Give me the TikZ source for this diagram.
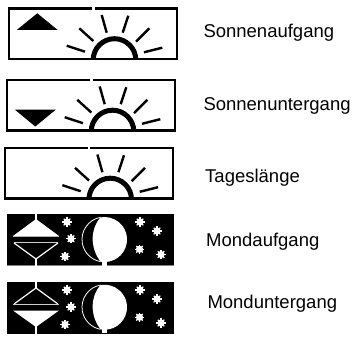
\documentclass[tikz,border=0pt]{standalone}
\usepackage{fontspec}
\setmainfont{Liberation Sans}
\tikzset{
  frameline/.style={line width=2.1pt,draw=black},
  ray/.style={line width=2.4pt,draw=black},
  arcline/.style={line width=5pt,draw=black},
  gapline/.style={line width=2.2pt,draw=white},
  mark label/.style={anchor=base west,inner sep=0pt,font=\fontsize{18.5}{22}\selectfont},
  whiteline/.style={line width=1.2pt,draw=white},
}
\newcommand{\sunbox}[2]{%
  \begin{scope}[shift={(#1,#2)}]
    \draw[frameline] (9,8.5) rectangle (177,59);
    \draw[gapline] (93.5,6) -- (93.5,11);
    \begin{scope}
      \clip (80,30) rectangle (150,59);
      \draw[arcline] (114.5,60) circle[radius=21.3];
    \end{scope}
    \draw[ray] (101.7,15) -- (106.7,32.7);
    \draw[ray] (128.3,15.7) -- (122.7,32.7);
    \draw[ray] (79.3,28.3) -- (93.3,41);
    \draw[ray] (149.3,28.3) -- (136,41.7);
    \draw[ray] (66.7,45.7) -- (85,51.7);
    \draw[ray] (162.3,47.7) -- (144,52.3);
  \end{scope}}
\newcommand{\starmark}[2]{%
  \fill[white] (#1,#2) circle[radius=3.6];
  \foreach \a in {0,45,90,135}{\draw[white,line width=1.2pt] ({#1+4.6*cos(\a)},{#2+4.6*sin(\a)}) -- ({#1-4.6*cos(\a)},{#2-4.6*sin(\a)});}}
\newcommand{\moonbody}[1]{%
  \begin{scope}[shift={(0,#1)}]
    \draw[white,line width=.8pt] (100.6,217.3) arc[start angle=-100,end angle=-260,radius=22.5];
    \fill[white] (100.6,217.3) .. controls (90,229) and (90,248) .. (100.6,261.7) arc[start angle=100,end angle=-100,radius=22.5] -- cycle;
    \fill[white] (101.5,259) rectangle (107,265.6);
  \end{scope}}
\begin{document}
\begin{tikzpicture}[x=1pt,y=-1pt]
  \useasboundingbox (0,0) rectangle (355,337);
  \fill[white] (0,0) rectangle (355,337);
  % sun panels
  \sunbox{0}{0}
  \sunbox{-2}{71.5}
  \sunbox{-4.3}{139.5}
  \fill[black] (16.7,30) -- (57.7,30) -- (37.3,13.3) -- cycle;
  \fill[black] (14.7,109.5) -- (56,109.5) -- (35.3,126.5) -- cycle;
  % moon panel 1
  \fill[black] (7,214) rectangle (174,265.5);
  \draw[gray,line width=.5pt] (7,265.6) -- (174,265.6);
  \fill[white] (13,236) -- (59,236) -- (36,219) -- cycle;
  \draw[gray!60,line width=.7pt] (13,236.3) -- (59,236.3);
  \draw[white,line width=1.9pt] (35.8,214) -- (35.8,220);
  \draw[gray!40,line width=1pt] (14,242.6) -- (58,242.6);
  \draw[whiteline] (14,243) -- (36,259) -- (58,243);
  \draw[white,line width=1.9pt] (35.8,258.5) -- (35.8,266);
  \starmark{67}{222}\starmark{71}{238.7}\starmark{65}{256.5}
  \starmark{140}{222}\starmark{157}{231}\starmark{139.5}{249.3}\starmark{161}{254.5}
  \moonbody{0}
  % moon panel 2
  \fill[black] (7,282.3) rectangle (174,333.5);
  \draw[whiteline] (14,304) -- (36,288) -- (58,304);
  \draw[gray!40,line width=1pt] (13,304.5) -- (59,304.5);
  \draw[white,line width=1.9pt] (35.8,282) -- (35.8,288.5);
  \fill[white] (13,310.5) -- (59,310.5) -- (36,327) -- cycle;
  \draw[white,line width=1.9pt] (35.8,326) -- (35.8,334);
  \starmark{67}{290}\starmark{71}{307}\starmark{65}{324.5}
  \starmark{140}{290}\starmark{157}{299}\starmark{139.5}{317.3}\starmark{161}{323}
  \moonbody{67.7}
  % labels
  \node[mark label] (l1) at (203.3,37.3) {Sonnenaufgang};
  \node[mark label] (l2) at (203.3,110) {Sonnenuntergang};
  \node[mark label] (l3) at (205,182.7) {Tageslänge};
  \node[mark label] (l4) at (206,246) {Mondaufgang};
  \node[mark label] (l5) at (207.3,308.3) {Monduntergang};
\end{tikzpicture}
\end{document}
